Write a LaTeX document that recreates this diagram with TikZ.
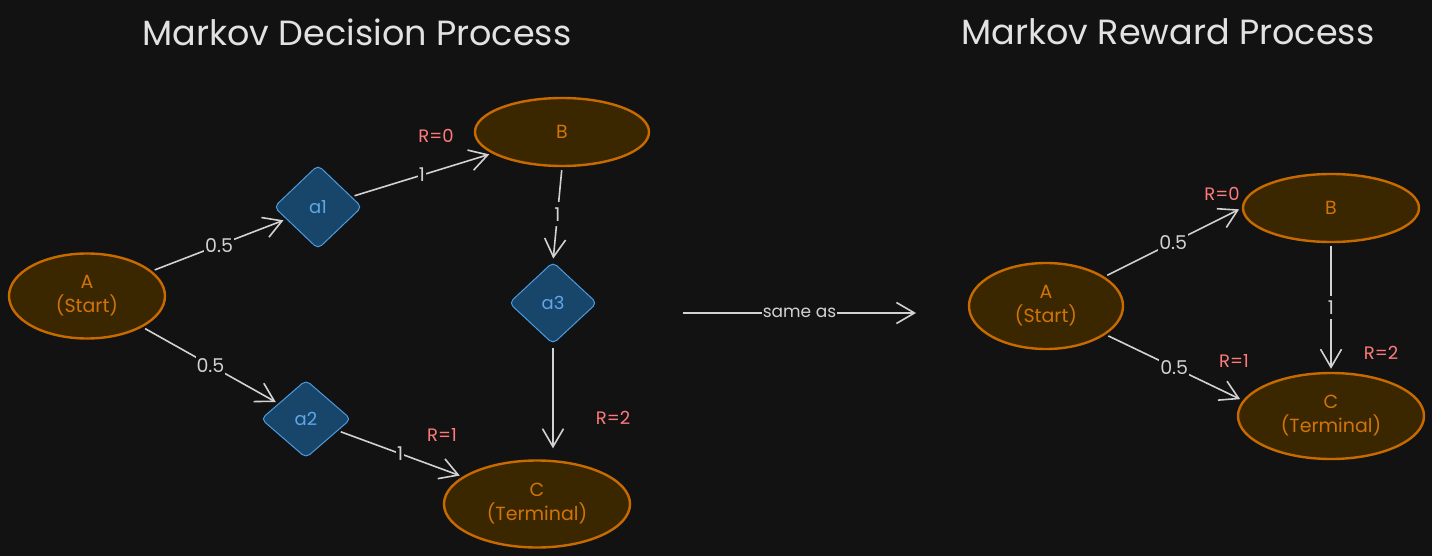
\documentclass[tikz,border=0pt]{standalone}
\usepackage{fontspec}
\setmainfont{Poppins}
\usetikzlibrary{shapes.geometric,arrows.meta}
\definecolor{bg}{HTML}{121212}
\definecolor{ostroke}{HTML}{C76A00}
\definecolor{ofill}{HTML}{3A2700}
\definecolor{otext}{HTML}{D0740A}
\definecolor{bstroke}{HTML}{4A9BE0}
\definecolor{bfill}{HTML}{18456A}
\definecolor{btext}{HTML}{5EA8EA}
\definecolor{edgec}{HTML}{D2D2D2}
\definecolor{rtext}{HTML}{FF7A7A}
\definecolor{ttext}{HTML}{E2E2E2}
\begin{document}
\begin{tikzpicture}[x=1pt,y=-1pt,
 state/.style={ellipse,draw=ostroke,fill=ofill,line width=2.4pt,text=otext,inner sep=0pt,font=\fontsize{19}{24}\selectfont,align=center},
 act/.style={diamond,draw=bstroke,fill=bfill,line width=1pt,rounded corners=5pt,text=btext,minimum width=88pt,minimum height=84pt,inner sep=0pt,font=\fontsize{18}{20}\selectfont},
 arr/.style={draw=edgec,line width=1.6pt,-{Straight Barb[length=18pt,width=21pt]},shorten <=3pt,shorten >=3pt},
 lbl/.style={fill=bg,text=edgec,inner xsep=1pt,inner ysep=5pt,font=\fontsize{19}{20}\selectfont},
 rew/.style={text=rtext,font=\fontsize{18}{20}\selectfont},
 ttl/.style={text=ttext,font=\fontsize{35}{40}\selectfont}]
\fill[bg] (0,0) rectangle (1432,556);
\useasboundingbox (0,0) rectangle (1432,556);

% titles
\node[ttl] (t1) at (357,32) {Markov Decision Process};
\node[ttl] (t2) at (1168,32) {Markov Reward Process};

% left diagram
\node[state,minimum width=156pt,minimum height=85pt] (A) at (87,296) {A\\(Start)};
\node[state,minimum width=174pt,minimum height=68pt] (B) at (562,132) {B};
\node[state,minimum width=186pt,minimum height=87pt] (C) at (537,504) {C\\(Terminal)};
\node[act] (a1) at (318,207) {a1};
\node[act,minimum height=78pt,minimum width=90pt] (a2) at (306,419) {a2};
\node[act,minimum height=82pt] (a3) at (553,303) {a3};

\draw[arr] (A) -- node[lbl]{0.5} (a1);
\draw[arr] (a1) -- node[lbl]{1} (B);
\draw[arr] (A) -- node[lbl]{0.5} (a2);
\draw[arr] (a2) -- node[lbl]{1} (C);
\draw[arr] (B.south) -- node[lbl]{1} (a3.north);
\draw[arr,shorten >=11pt] (a3.south) -- (a3.south |- C.north);

\node[rew] (r0) at (436,136) {R=0};
\node[rew] (r1) at (442,435) {R=1};
\node[rew] (r2) at (613,418) {R=2};

% same as
\node (s1) at (683,313) {};
\node (s2) at (916,313) {};
\draw[arr,shorten <=0pt,shorten >=0pt] (s1.center) -- node[lbl,inner ysep=1pt,font=\fontsize{17}{18}\selectfont]{same as} (s2.center);

% right diagram
\node[state,minimum width=154pt,minimum height=86pt] (RA) at (1046,306) {A\\(Start)};
\node[state,minimum width=176pt,minimum height=68pt] (RB) at (1331,208) {B};
\node[state,minimum width=186pt,minimum height=86pt] (RC) at (1331,416) {C\\(Terminal)};

\draw[arr] (RA) -- node[lbl]{0.5} (RB.west);
\draw[arr] (RA) -- node[lbl]{0.5} (RC.170);
\draw[arr] (RB) -- node[lbl]{1} (RC);

\node[rew] (rr0) at (1222,194) {R=0};
\node[rew] (rr1) at (1234,361) {R=1};
\node[rew] (rr2) at (1381,353) {R=2};
\end{tikzpicture}
\end{document}
